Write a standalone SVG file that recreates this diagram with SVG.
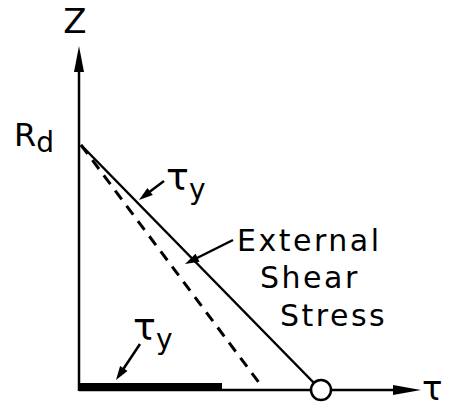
<svg xmlns="http://www.w3.org/2000/svg" width="456" height="408" viewBox="0 0 456 408">
<style>
.t{font-family:"DejaVu Sans","Liberation Sans",sans-serif;fill:#000}
.lbl{font-size:30px;letter-spacing:2.5px}
.ax{stroke:#000;stroke-width:2.5;fill:none}
.ln{stroke:#000;stroke-width:2.5;fill:none}
.ds{stroke:#000;stroke-width:3;fill:none;stroke-dasharray:11 8}
.ar{stroke:#000;stroke-width:2.5;fill:none}
.hd{fill:#000;stroke:none}
</style>
<g id="connectors">
<line class="ax" x1="79" y1="391" x2="79" y2="66"/>
<polygon class="hd" points="79,46 84,72 74,72"/>
<line class="ax" x1="79" y1="390" x2="398" y2="390"/>
<polygon class="hd" points="421,390 393,385 393,395"/>
<line class="ln" x1="81" y1="145" x2="314" y2="383"/>
<line class="ds" x1="81" y1="145" x2="263" y2="388"/>
<rect x="80" y="383" width="142" height="8" fill="#000"/>
<line class="ar" x1="164" y1="181" x2="148" y2="193"/>
<polygon class="hd" points="139,200 152.8,195.1 147.4,187.9"/>
<line class="ar" x1="233" y1="240" x2="196" y2="258.5"/>
<polygon class="hd" points="185,264 199.5,261.7 195.5,253.7"/>
<line class="ar" x1="140" y1="344" x2="123" y2="369.5"/>
<polygon class="hd" points="116,380 127.5,370.9 120.1,365.9"/>
</g>
<g id="circle-node"><circle cx="321" cy="390" r="10" fill="#fff" stroke="#000" stroke-width="2.5"/></g>
<g id="z-label"><text class="t" x="75" y="33" font-size="34" text-anchor="middle">Z</text></g>
<g id="rd-label"><text class="t" x="14" y="146" font-size="32">R<tspan font-size="28" dy="6">d</tspan></text></g>
<g id="tau-y-upper"><text class="t" x="166" y="190" font-size="38">τ<tspan font-size="28" dy="9">y</tspan></text></g>
<g id="external-label">
<text class="t lbl" x="237" y="251">External</text>
<text class="t lbl" x="260" y="288">Shear</text>
<text class="t lbl" x="280" y="326">Stress</text>
</g>
<g id="tau-y-lower"><text class="t" x="133" y="340" font-size="38">τ<tspan font-size="28" dy="9">y</tspan></text></g>
<g id="tau-label"><text class="t" x="422" y="400" font-size="34">τ</text></g>
</svg>
